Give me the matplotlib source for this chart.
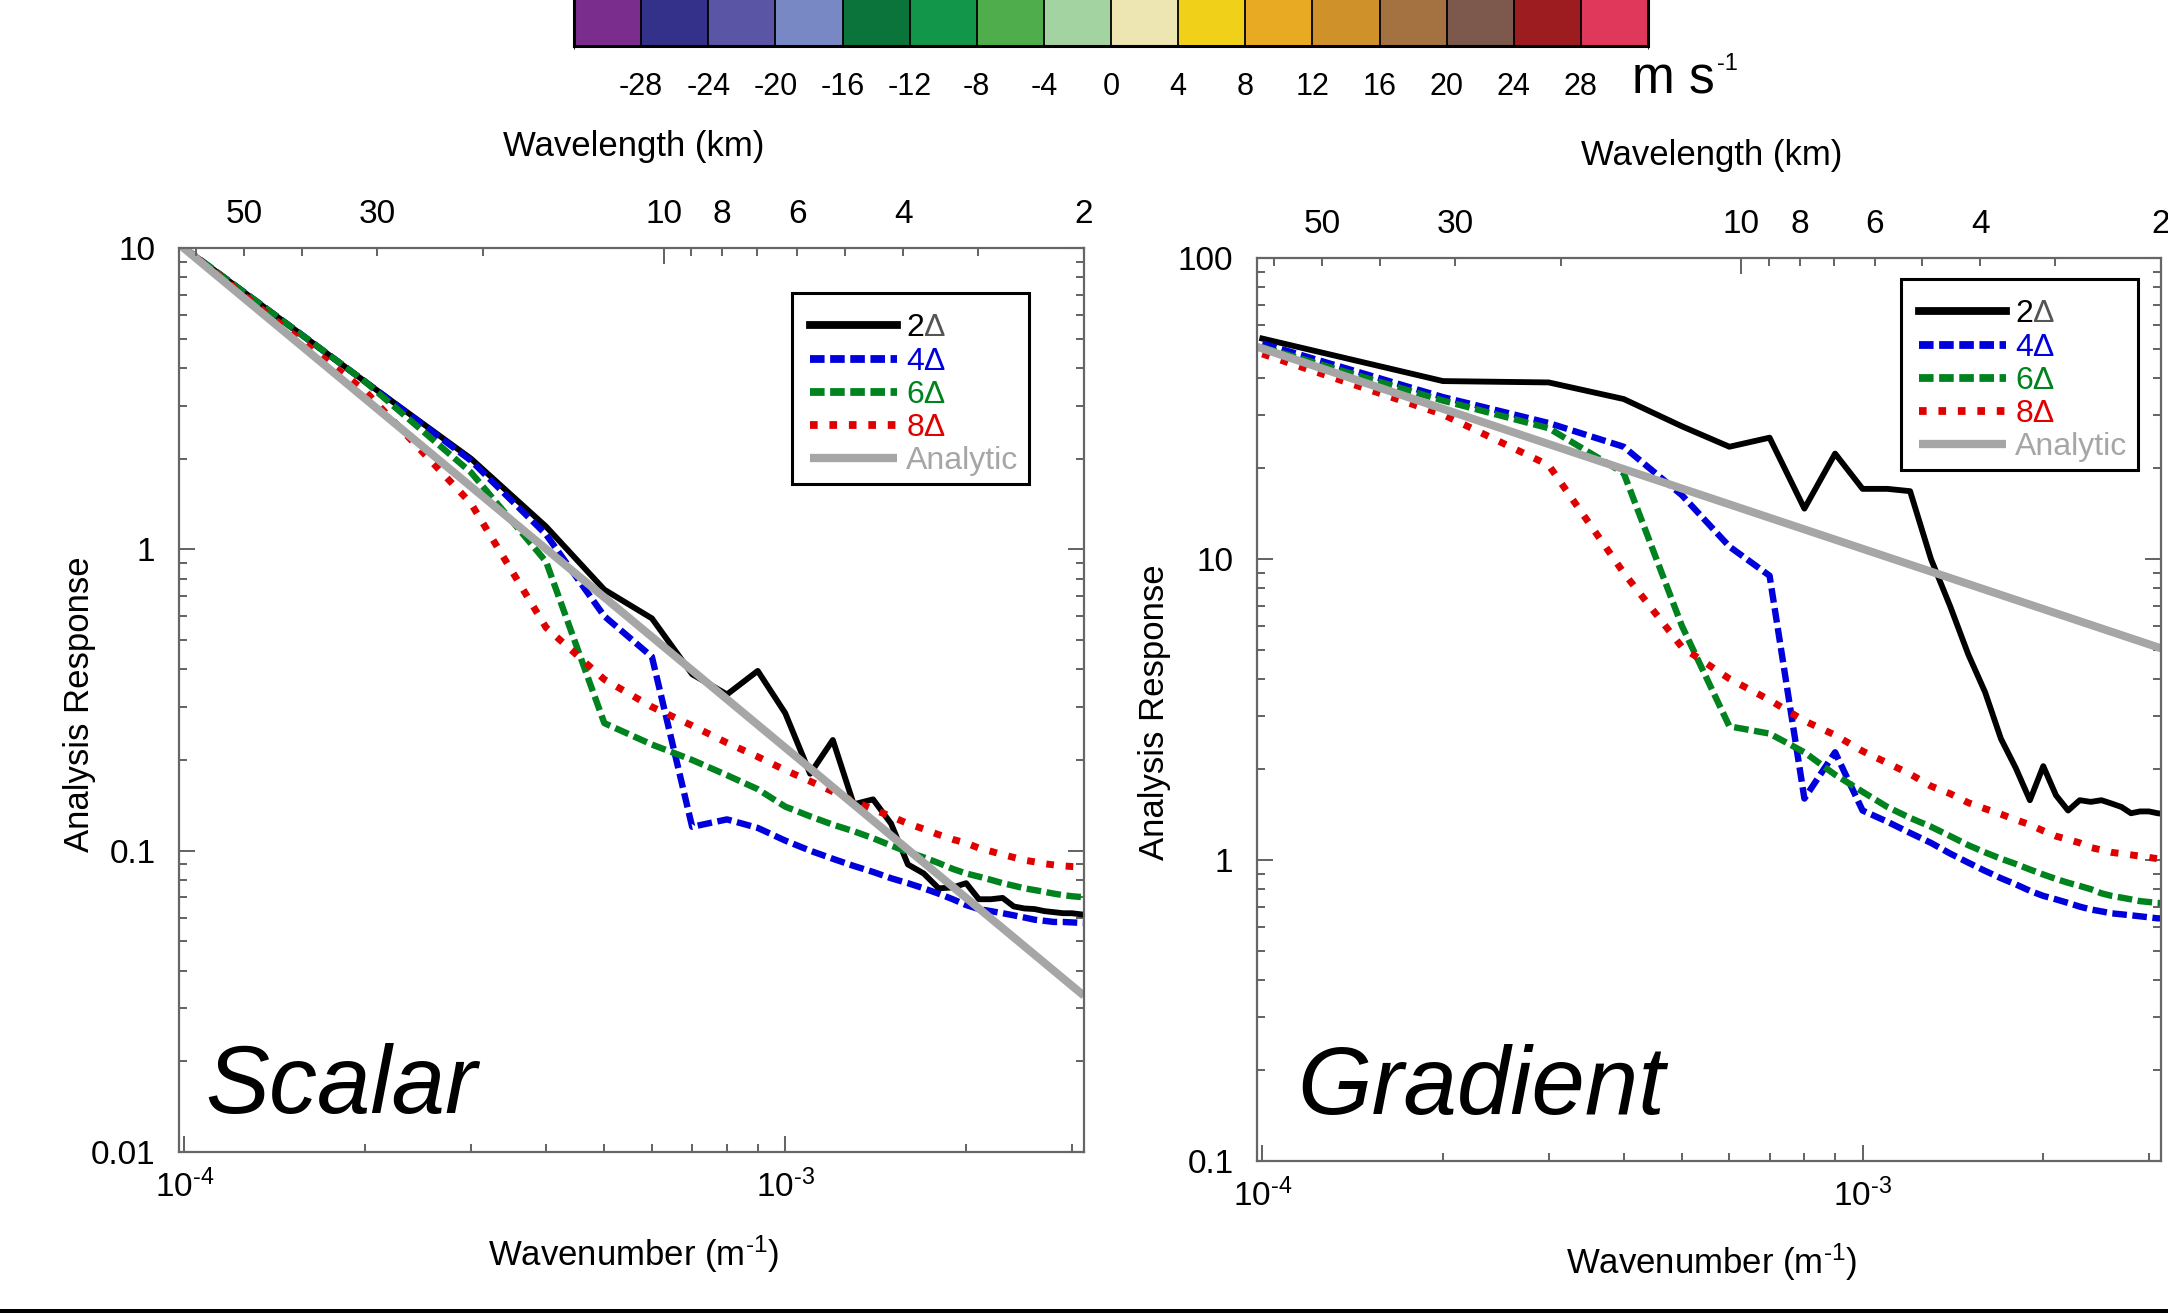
import numpy as np
import matplotlib
matplotlib.use('Agg')
import matplotlib.pyplot as plt
from matplotlib.colors import ListedColormap, BoundaryNorm
from matplotlib.cm import ScalarMappable
from matplotlib.patches import Rectangle
from matplotlib.ticker import NullFormatter, FuncFormatter

plt.rcParams['font.family'] = ['Liberation Sans', 'DejaVu Sans']
plt.rcParams['mathtext.fontset'] = 'custom'
plt.rcParams['mathtext.rm'] = 'Liberation Sans'
plt.rcParams['mathtext.it'] = 'Liberation Sans:italic'
plt.rcParams['axes.unicode_minus'] = False
plt.rcParams['lines.scale_dashes'] = False

W, H = 2168, 1313

# wavenumber samples (m^-1) and the ends of the analytic line
wavenumber = np.arange(1, 33) * 1.0e-4
analytic_k = [0.98e-4, 2 * np.pi / 2000.0]

scalar_2dx = [10.0, 3.6, 2.0, 1.19, 0.735, 0.59, 0.385, 0.33, 0.395, 0.286, 0.18, 0.233,
              0.1425, 0.148, 0.123, 0.09, 0.084, 0.075, 0.0755, 0.078, 0.069, 0.069, 0.0697,
              0.0653, 0.0643, 0.064, 0.063, 0.0625, 0.062, 0.062, 0.0615, 0.0612]
scalar_4dx = [10.0, 3.6, 1.97, 1.12, 0.60, 0.44, 0.12, 0.127, 0.119, 0.108, 0.10, 0.094,
              0.089, 0.085, 0.081, 0.078, 0.075, 0.072, 0.069, 0.066, 0.064, 0.063, 0.062,
              0.061, 0.060, 0.059, 0.0585, 0.058, 0.058, 0.0578, 0.0576, 0.0575]
scalar_6dx = [10.0, 3.6, 1.8, 0.91, 0.265, 0.225, 0.20, 0.178, 0.16, 0.14, 0.13, 0.122,
              0.116, 0.11, 0.104, 0.099, 0.095, 0.091, 0.087, 0.084, 0.082, 0.08, 0.078,
              0.0765, 0.075, 0.074, 0.073, 0.072, 0.0712, 0.0706, 0.0702, 0.07]
scalar_8dx = [10.0, 3.35, 1.42, 0.55, 0.37, 0.30, 0.26, 0.228, 0.205, 0.185, 0.17, 0.157,
              0.146, 0.137, 0.13, 0.123, 0.118, 0.113, 0.109, 0.106, 0.102, 0.0995, 0.097,
              0.095, 0.093, 0.0918, 0.0905, 0.0897, 0.089, 0.0886, 0.0884, 0.088]
scalar_analytic = [10.3, 0.033]

gradient_2dx = [54, 39, 38.6, 34, 27.6, 23.6, 25.3, 14.7, 22.4, 17.1, 17.1, 16.8, 10.0,
                6.95, 4.82, 3.61, 2.53, 2.02, 1.58, 2.05, 1.64, 1.46, 1.58, 1.56, 1.58,
                1.54, 1.50, 1.43, 1.45, 1.45, 1.43, 1.42]
gradient_4dx = [52, 34.5, 28.3, 23.6, 16.3, 11.0, 8.8, 1.60, 2.28, 1.46, 1.34, 1.23, 1.14,
                1.05, 0.98, 0.92, 0.87, 0.83, 0.79, 0.76, 0.74, 0.72, 0.70, 0.685, 0.675,
                0.665, 0.66, 0.655, 0.65, 0.645, 0.64, 0.64]
gradient_6dx = [50.5, 33.6, 27.2, 19.3, 6.0, 2.78, 2.63, 2.28, 1.92, 1.685, 1.50, 1.38,
                1.29, 1.20, 1.12, 1.06, 1.01, 0.97, 0.93, 0.895, 0.865, 0.84, 0.82, 0.80,
                0.775, 0.76, 0.75, 0.74, 0.73, 0.725, 0.72, 0.718]
gradient_8dx = [48, 30.2, 20.5, 9.0, 5.1, 4.0, 3.4, 2.9, 2.6, 2.3, 2.1, 1.93, 1.76, 1.66,
                1.55, 1.48, 1.42, 1.36, 1.31, 1.25, 1.20, 1.17, 1.14, 1.10, 1.08, 1.06,
                1.05, 1.04, 1.03, 1.02, 1.01, 1.0]
gradient_analytic = [50.7, 5.05]

# the first label is "2" plus a grey delta added after it
series_labels = ['2', '4\u0394', '6\u0394', '8\u0394', 'Analytic']
series_colors = ['black', '#0000dd', '#00821e', '#e00000', '#a6a6a6']

# wavelength (km) ticks on the top axis
lam_major = [10]
lam_minor = [60, 50, 40, 30, 20, 9, 8, 7, 6, 5, 4, 3, 2]
lam_minor_labels = ['', '50', '', '30', '', '', '8', '', '6', '', '4', '', '2']

# colour bar
cbar_colors = ['#7b2d8e', '#33318a', '#5a55a5', '#7788c4', '#0b743a', '#12964a', '#4fae4b',
               '#a3d3a0', '#ede5b2', '#f0d018', '#e8aa22', '#cf922b', '#a47240', '#7d584c',
               '#9c1c20', '#e0385b']
cbar_bounds = list(range(-32, 33, 4))
cbar_ticks = list(range(-28, 29, 4))

spine_gray = '#666666'
xlim = (0.98e-4, 2 * np.pi / 2000.0)
FS = 24


def styles():
    return [dict(color=series_colors[0], lw=4.2, ls='-'),
            dict(color=series_colors[1], lw=4.6, ls=(0, (10.5, 4.0))),
            dict(color=series_colors[2], lw=4.6, ls=(0, (10.5, 4.0))),
            dict(color=series_colors[3], lw=5.0, ls=(0, (5.5, 8.5))),
            dict(color=series_colors[4], lw=5.8, ls='-', solid_capstyle='butt')]


def pow10_label(v, pos):
    e = int(round(np.log10(v)))
    if e < 0:
        return r'$\mathdefault{10^{\text{-}%d}}$' % (-e)
    return r'$\mathdefault{10^{%d}}$' % e


def panel(ax, curves, analytic, ylim, name, name_xy, box, lab):
    st = styles()
    for vals, s, lbl in zip(curves, st[:4], series_labels[:4]):
        ax.plot(wavenumber, vals, label=lbl, **s)
    ax.plot(analytic_k, analytic, label=series_labels[4], **st[4])

    ax.set_xscale('log')
    ax.set_yscale('log')
    ax.set_xlim(xlim)
    ax.set_ylim(ylim)

    for s in ax.spines.values():
        s.set_color(spine_gray)
        s.set_linewidth(1.6)
    ax.tick_params(which='both', direction='in', top=False, right=True,
                   color=spine_gray, labelcolor='black', width=1.45)
    ax.tick_params(which='major', length=11.5, labelsize=FS)
    ax.tick_params(which='minor', length=6)
    ax.tick_params(axis='y', pad=17)
    ax.tick_params(axis='x', pad=13)
    ax.xaxis.set_major_formatter(FuncFormatter(pow10_label))
    ax.xaxis.set_minor_formatter(NullFormatter())
    ax.yaxis.set_major_formatter(FuncFormatter(lambda v, p: '%g' % v))
    ax.yaxis.set_minor_formatter(NullFormatter())

    ax.set_xlabel(r'Wavenumber (m$^{\text{-}1}$)', fontsize=25)
    ax.xaxis.set_label_coords(lab[0], lab[1])
    ax.xaxis.label.set_va('center')
    ax.set_ylabel('Analysis Response', fontsize=25)
    ax.yaxis.set_label_coords(lab[2], lab[3])
    ax.yaxis.label.set_va('center')

    top = ax.twiny()
    top.set_xscale('log')
    top.set_xlim(xlim)
    for s in top.spines.values():
        s.set_visible(False)
    top.set_xticks([2 * np.pi / (l * 1000.0) for l in lam_major], labels=['10'])
    top.set_xticks([2 * np.pi / (l * 1000.0) for l in lam_minor], labels=lam_minor_labels,
                   minor=True)
    top.tick_params(which='both', direction='in', color=spine_gray, width=1.45,
                    labelsize=FS, pad=13)
    top.tick_params(which='major', length=11.5)
    top.tick_params(which='minor', length=6)
    top.set_xlabel('Wavelength (km)', fontsize=25)
    top.xaxis.set_label_coords(lab[0], lab[4])
    top.xaxis.label.set_va('center')

    # legend frame drawn as its own box, legend entries placed inside it
    x0, y0, x1, y1 = box
    ax.add_patch(Rectangle((x0, y0), x1 - x0, y1 - y0, transform=ax.transAxes,
                           facecolor='white', edgecolor='black', lw=2.2, zorder=4.5))
    leg = ax.legend(loc='upper left', bbox_to_anchor=(x0 + 0.0055, y1 - 0.0078),
                    borderaxespad=0, fontsize=23, frameon=False, handlelength=2.7,
                    handletextpad=0.3, labelspacing=0.1, borderpad=0.42)
    for t, c in zip(leg.get_texts(), series_colors):
        t.set_color(c)
    for ln, w in zip(leg.get_lines(), [5.6, 5.6, 5.6, 5.6, 6.0]):
        ln.set_linewidth(w)
    # grey delta right after the "2"
    ax.annotate('\u0394', xy=(1, 0), xycoords=leg.get_texts()[0], ha='left', va='bottom',
                fontsize=23, color='#555555', zorder=6, annotation_clip=False)

    ax.text(name_xy[0], name_xy[1], name, transform=ax.transAxes, fontsize=69,
            style='italic', va='baseline', ha='left')


fig = plt.figure(figsize=(W / 100, H / 100), dpi=100)

ax1 = fig.add_axes([179 / W, 1 - 1152 / H, 905 / W, 904 / H])
panel(ax1, [scalar_2dx, scalar_4dx, scalar_6dx, scalar_8dx], scalar_analytic,
      (0.01, 10), 'Scalar', (0.029, 0.043), (0.6773, 0.7389, 0.9392, 0.9502),
      (0.502, -0.113, -0.11, 0.495, 1.112))

ax2 = fig.add_axes([1257 / W, 1 - 1161 / H, 904 / W, 903 / H])
panel(ax2, [gradient_2dx, gradient_4dx, gradient_6dx, gradient_8dx], gradient_analytic,
      (0.1, 100), 'Gradient', (0.044, 0.052), (0.7124, 0.7652, 0.9746, 0.9767),
      (0.503, -0.112, -0.113, 0.497, 1.113))

# colour bar along the top edge (its upper part runs off the figure)
cax = fig.add_axes([574 / W, 1 - 46 / H, 1074 / W, 70 / H])
sm = ScalarMappable(norm=BoundaryNorm(cbar_bounds, len(cbar_colors)),
                    cmap=ListedColormap(cbar_colors))
cb = fig.colorbar(sm, cax=cax, orientation='horizontal', ticks=cbar_ticks, drawedges=True)
cb.outline.set_linewidth(2.2)
cb.dividers.set_color('black')
cb.dividers.set_linewidth(1.3)
cax.tick_params(length=0, labelsize=22, pad=19)
cax.set_xticklabels([str(t) for t in cbar_ticks])
fig.text(1632 / W, 1 - 93 / H, 'm s', fontsize=37, va='baseline', ha='left')
fig.text(1717 / W, 1 - 70 / H, '-1', fontsize=17, va='baseline', ha='left')

fig.add_artist(Rectangle((0, 0), 1, 4 / H, transform=fig.transFigure,
                         facecolor='black', edgecolor='none'))

fig.savefig('out.png', dpi=100)
